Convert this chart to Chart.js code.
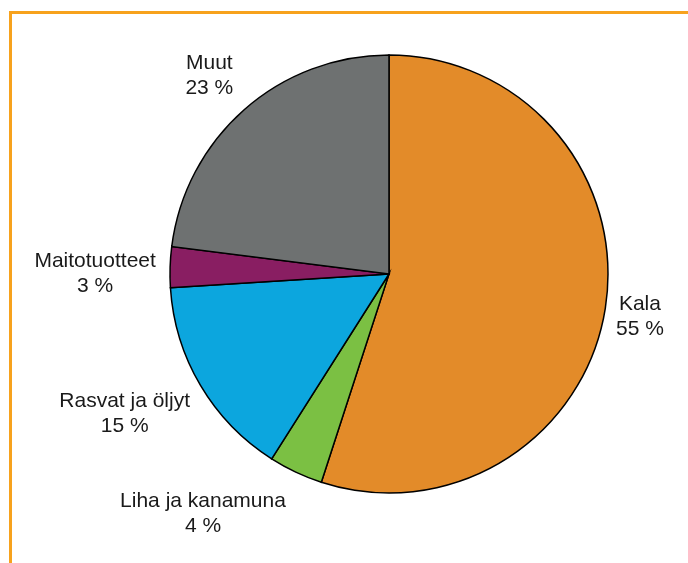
<!DOCTYPE html>
<html>
<head>
<meta charset="utf-8">
<script src="https://cdn.jsdelivr.net/npm/chart.js@4/dist/chart.umd.min.js"></script>
<style>
  html, body { margin: 0; padding: 0; background: #fff; overflow: hidden; }
  .wrap { position: relative; width: 688px; height: 563px; }
  .frame {
    position: absolute; left: 9px; top: 11px; width: 700px; height: 600px;
    border-top: 3px solid #F7A21D; border-left: 3px solid #F7A21D;
  }
  canvas { position: absolute; left: 0; top: 0; }
</style>
</head>
<body>
<div class="wrap">
  <div class="frame"></div>
  <canvas id="pie" width="688" height="563"></canvas>
</div>
<script>
const categories = ['Kala', 'Liha ja kanamuna', 'Rasvat ja öljyt', 'Maitotuotteet', 'Muut'];
const shares = [55, 4, 15, 3, 23];
const sliceColors = ['#E38B29', '#7BC043', '#0CA6DE', '#891E62', '#6E7171'];

// small nudges so the labels sit where the original put them
const labelNudge = [[5, 2], [-80, 13], [-50, 11], [-45, 6], [-15, -13]];

const outsideLabels = {
  id: 'outsideLabels',
  afterDatasetsDraw(chart) {
    const ctx = chart.ctx;
    const arcs = chart.getDatasetMeta(0).data;
    ctx.save();
    ctx.font = '21px "Liberation Sans", Arial, sans-serif';
    ctx.fillStyle = '#1a1a1a';
    ctx.textAlign = 'center';
    ctx.textBaseline = 'alphabetic';
    arcs.forEach((arc, i) => {
      const mid = (arc.startAngle + arc.endAngle) / 2;
      const r = arc.outerRadius + 30;
      const x = arc.x + r * Math.cos(mid) + labelNudge[i][0];
      const y = arc.y + r * Math.sin(mid) + labelNudge[i][1];
      ctx.fillText(categories[i], x, y - 5);
      ctx.fillText(shares[i] + ' %', x, y + 20);
    });
    ctx.restore();
  }
};

new Chart(document.getElementById('pie'), {
  type: 'pie',
  data: {
    labels: categories,
    datasets: [{
      data: shares,
      backgroundColor: sliceColors,
      borderColor: '#000',
      borderWidth: 1.5,
      borderJoinStyle: 'miter'
    }]
  },
  options: {
    responsive: false,
    animation: false,
    radius: 219,
    layout: { padding: { left: 170, right: 80, top: 55, bottom: 70 } },
    plugins: {
      legend: { display: false },
      tooltip: { enabled: false }
    }
  },
  plugins: [outsideLabels]
});
</script>
</body>
</html>
